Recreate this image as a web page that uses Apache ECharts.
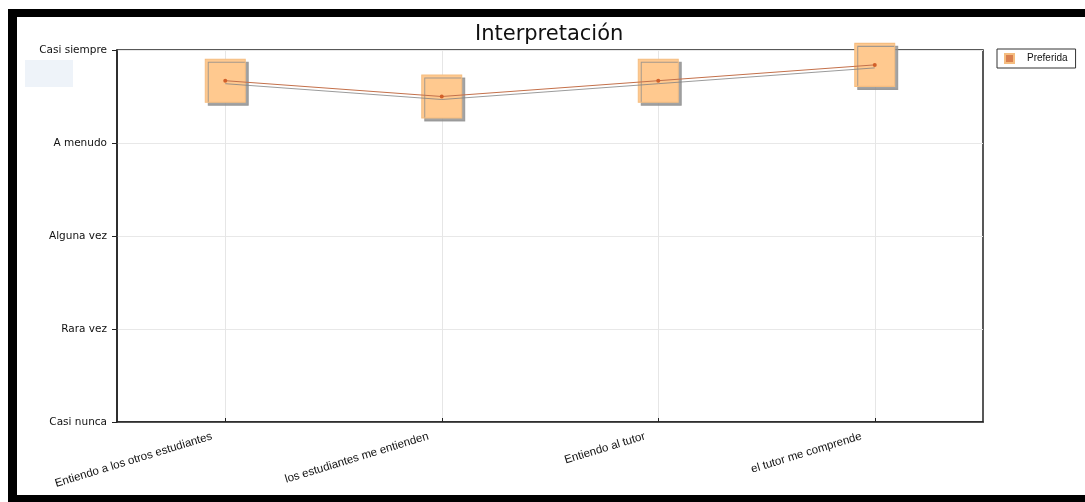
<!DOCTYPE html>
<html>
<head>
<meta charset="utf-8">
<script src="https://cdn.jsdelivr.net/npm/echarts@6/dist/echarts.min.js"></script>
<style>
  html, body { margin: 0; padding: 0; background: #fff; }
  #chart { width: 1085px; height: 502px; }
</style>
</head>
<body>
<div id="chart"></div>
<script>
// Survey items along the horizontal axis
const categories = [
  'Entiendo a los otros estudiantes',
  'los estudiantes me entienden',
  'Entiendo al tutor',
  'el tutor me comprende'
];
// Mean answer per item on the 1..5 frequency scale
const preferida = [4.67, 4.50, 4.67, 4.84];
// Frequency scale labels for values 1..5
const scaleLabels = ['Casi nunca', 'Rara vez', 'Alguna vez', 'A menudo', 'Casi siempre'];

const chart = echarts.init(document.getElementById('chart'), null, { renderer: 'canvas' });

const option = {
  animation: false,
  backgroundColor: '#ffffff',
  title: {
    text: 'Interpretación',
    left: 470,
    top: 19,
    textStyle: { fontFamily: 'DejaVu Sans', fontSize: 21, fontWeight: 'normal', color: '#111' }
  },
  legend: {
    left: 997,
    top: 49,
    orient: 'vertical',
    data: [{ name: 'Preferida', itemStyle: { color: '#d9804f', shadowBlur: 0, shadowOffsetX: 0, shadowOffsetY: 0 } }],
    icon: 'rect',
    itemWidth: 9,
    itemHeight: 9,
    padding: [4, 8, 4, 7],
    borderColor: '#333',
    borderWidth: 1,
    selectedMode: false,
    textStyle: { fontFamily: 'Liberation Sans', fontSize: 10, color: '#111', padding: [0, 0, 0, 8] }
  },
  grid: {
    left: 117,
    top: 50,
    right: 102,
    bottom: 80,
    show: true,
    borderColor: '#222',
    borderWidth: 1.5,
    containLabel: false
  },
  xAxis: {
    type: 'category',
    data: categories,
    boundaryGap: true,
    axisLine: { show: true, lineStyle: { color: '#222', width: 1.5 } },
    axisTick: { show: true, alignWithLabel: true, inside: true, length: 4, lineStyle: { color: '#222' } },
    axisLabel: {
      rotate: 17,
      margin: 10,
      padding: [0, 14, 0, 0],
      fontFamily: 'Liberation Sans',
      fontSize: 11.5,
      color: '#111'
    },
    splitLine: { show: false }
  },
  yAxis: {
    type: 'value',
    min: 1,
    max: 5,
    interval: 1,
    axisLine: { show: true, lineStyle: { color: '#222', width: 1.5 } },
    axisTick: { show: true, inside: false, length: 5, lineStyle: { color: '#222' } },
    axisLabel: {
      margin: 10,
      fontFamily: 'DejaVu Sans',
      fontSize: 10.5,
      color: '#111',
      formatter: function (v) { return scaleLabels[Math.round(v) - 1] || ''; }
    },
    splitLine: { show: true, lineStyle: { color: '#e8e8e8', width: 1 } }
  },
  graphic: [
    // faint tinted patch beside the scale
    { type: 'rect', shape: { x: 25, y: 60, width: 48, height: 27 }, style: { fill: '#eef3f9' }, silent: true, z: -1 },
    // black frame around the figure
    { type: 'rect', shape: { x: 8, y: 9, width: 1077, height: 8 }, style: { fill: '#000' }, silent: true, z: 100 },
    { type: 'rect', shape: { x: 8, y: 9, width: 9, height: 493 }, style: { fill: '#000' }, silent: true, z: 100 },
    { type: 'rect', shape: { x: 8, y: 495, width: 1077, height: 7 }, style: { fill: '#000' }, silent: true, z: 100 }
  ],
  series: [
    {
      name: 'Preferida',
      type: 'scatter',
      data: preferida,
      symbol: 'rect',
      symbolSize: [40, 43],
      itemStyle: {
        color: '#ffc98f',
        opacity: 1,
        borderColor: '#f5bd80',
        borderWidth: 1,
        shadowColor: 'rgba(140,140,140,0.8)',
        shadowOffsetX: 3,
        shadowOffsetY: 3,
        shadowBlur: 0
      },
      markLine: {
        silent: true,
        symbol: 'none',
        label: { show: false },
        lineStyle: { color: '#e6e6e6', type: 'solid', width: 1 },
        data: categories.map(function (c) { return { xAxis: c }; }),
        z: 0
      },
      z: 2
    },
    {
      name: 'media',
      type: 'line',
      data: preferida,
      symbol: 'circle',
      symbolSize: 4,
      itemStyle: { color: '#d2602a' },
      lineStyle: {
        color: '#c4704a',
        width: 1,
        shadowColor: 'rgba(130,130,130,0.8)',
        shadowOffsetY: 3,
        shadowOffsetX: 0,
        shadowBlur: 0
      },
      z: 3
    }
  ]
};

chart.setOption(option);
</script>
</body>
</html>
